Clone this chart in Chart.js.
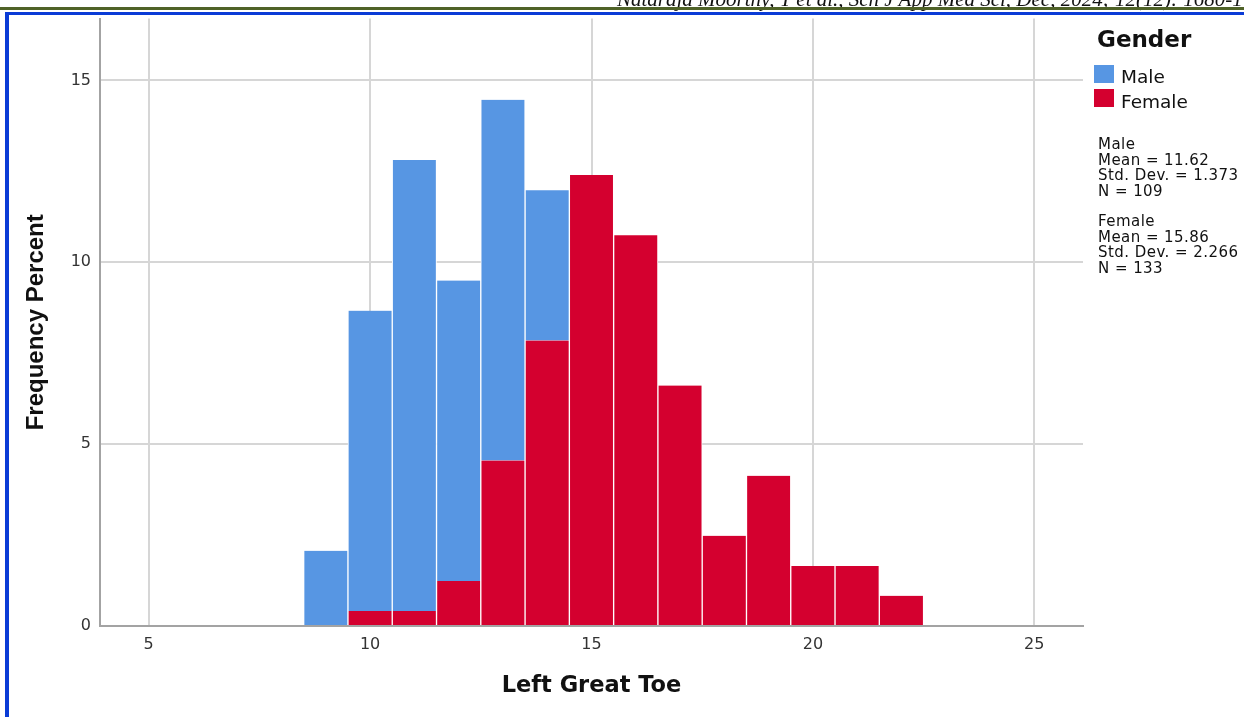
<!DOCTYPE html>
<html>
<head>
<meta charset="utf-8">
<title>Left Great Toe</title>
<script src="https://cdn.jsdelivr.net/npm/chart.js@4.4.1/dist/chart.umd.min.js"></script>
<style>
  html, body { margin: 0; padding: 0; background: #fff; overflow: hidden; }
  body { width: 1244px; height: 717px; position: relative; }
  #chart { position: absolute; left: 0; top: 0; }
  .ref { position: absolute; left: 617px; top: -11px; font: italic 21px "Liberation Serif", serif; line-height: 21px; white-space: nowrap; color: #111; }
  .rule { position: absolute; left: 0; top: 7px; width: 1244px; height: 3px; background: #4f6228; }
  .frame { position: absolute; left: 5px; top: 12px; width: 1300px; height: 800px; border-left: 4px solid #0a3bd6; border-top: 3px solid #0a3bd6; }
  .lg-title { position: absolute; left: 1097px; top: 28px; font: bold 23px "DejaVu Sans", sans-serif; line-height: 23px; color: #111; }
  .lg-item { position: absolute; left: 1121px; font: 18.5px "DejaVu Sans", sans-serif; line-height: 18px; color: #111; }
  .sw { position: absolute; left: 1094px; width: 20px; height: 18px; }
  .stats { position: absolute; left: 1098px; font: 15px "DejaVu Sans", sans-serif; line-height: 15.5px; letter-spacing: 0.45px; color: #111; white-space: pre; }
</style>
</head>
<body>
<canvas id="chart" width="1244" height="717"></canvas>
<div class="ref">Nataraja Moorthy, T et al., Sch J App Med Sci, Dec, 2024; 12(12): 1680-1</div>
<div class="rule"></div>
<div class="frame"></div>
<div id="legend"></div>
<script>
// bins (bar centres) and percent of all 242 cases
const bins = [9, 10, 11, 12, 13, 14, 15, 16, 17, 18, 19, 20, 21, 22];
const malePct = [2.07, 8.26, 12.40, 8.26, 9.92, 4.13, 0, 0, 0, 0, 0, 0, 0, 0];
const femalePct = [0, 0.41, 0.41, 1.24, 4.55, 7.85, 12.40, 10.74, 6.61, 2.48, 4.13, 1.65, 1.65, 0.83];
const xTicks = [5, 10, 15, 20, 25];
const yTicks = [0, 5, 10, 15];

const seriesNames = ['Male', 'Female'];
const seriesColors = ['#5796e3', '#d4002f'];
const statLines = [
  ['Male', 'Mean = 11.62', 'Std. Dev. = 1.373', 'N = 109'],
  ['Female', 'Mean = 15.86', 'Std. Dev. = 2.266', 'N = 133']
];

// legend + stats as html text
const lg = document.getElementById('legend');
let html = '<div class="lg-title">Gender</div>';
seriesNames.forEach((n, i) => {
  html += '<div class="sw" style="top:' + (65 + i * 24) + 'px;background:' + seriesColors[i] + '"></div>';
  html += '<div class="lg-item" style="top:' + (68 + i * 25) + 'px">' + n + '</div>';
});
statLines.forEach((lines, i) => {
  html += '<div class="stats" style="top:' + (137 + i * 77) + 'px">' + lines.join('\n') + '</div>';
});
lg.innerHTML = html;

const toPoints = arr => bins.map((b, i) => ({ x: b, y: arr[i] }));
const barStyle = {
  borderColor: '#ffffff',
  borderWidth: { left: 1, right: 1, top: 0, bottom: 0 },
  borderSkipped: false,
  barPercentage: 1,
  categoryPercentage: 1
};

const gridColor = '#d6d6d6';
const axisColor = '#a3a3a3';

new Chart(document.getElementById('chart'), {
  type: 'bar',
  data: {
    datasets: [
      // female first so it sits at the bottom of the stack
      Object.assign({ label: 'Female', data: toPoints(femalePct), backgroundColor: seriesColors[1] }, barStyle),
      Object.assign({ label: 'Male', data: toPoints(malePct), backgroundColor: seriesColors[0] }, barStyle)
    ]
  },
  options: {
    responsive: false,
    animation: false,
    events: [],
    layout: { padding: { top: 14, right: 161, bottom: 0, left: 0 } },
    plugins: { legend: { display: false }, tooltip: { enabled: false } },
    scales: {
      x: {
        type: 'linear',
        stacked: true,
        offset: false,
        min: 3.9,
        max: 26.1,
        afterBuildTicks: s => { s.ticks = xTicks.map(v => ({ value: v })); },
        afterFit: s => { s.height = 91; },
        grid: { color: gridColor, lineWidth: 2, drawTicks: false, offset: false },
        border: { color: axisColor, width: 2 },
        ticks: { padding: 9, color: '#333', font: { family: 'DejaVu Sans', size: 16 } },
        title: {
          display: true,
          text: 'Left Great Toe',
          color: '#111',
          padding: { top: 0, bottom: 17 },
          font: { family: 'DejaVu Sans', size: 22.5, weight: 'bold' }
        }
      },
      y: {
        stacked: true,
        min: 0,
        max: 16.7,
        afterBuildTicks: s => { s.ticks = yTicks.map(v => ({ value: v })); },
        afterFit: s => { s.width = 100; },
        grid: { color: gridColor, lineWidth: 2, drawTicks: false },
        border: { color: axisColor, width: 2 },
        ticks: { padding: 9, color: '#333', font: { family: 'DejaVu Sans', size: 16 } },
        title: {
          display: true,
          text: 'Frequency Percent',
          color: '#111',
          padding: { top: 22, bottom: 0 },
          font: { family: 'Liberation Sans', size: 24, weight: 'bold' }
        }
      }
    }
  }
});
</script>
</body>
</html>
